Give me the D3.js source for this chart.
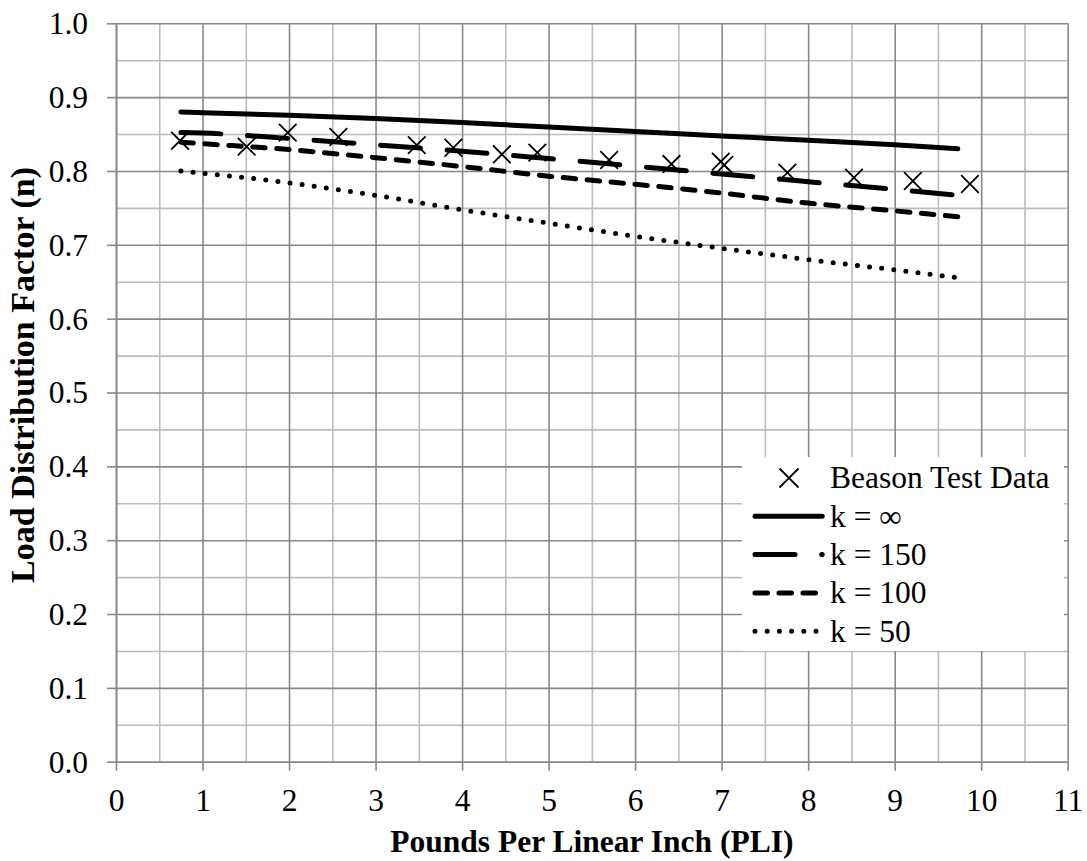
<!DOCTYPE html>
<html>
<head>
<meta charset="utf-8">
<script src="https://cdn.jsdelivr.net/npm/d3@7"></script>
<style>
  html, body { margin: 0; padding: 0; background: #fff; }
  svg { display: block; }
  text { font-family: "Liberation Serif", "Times New Roman", serif; fill: #000; }
</style>
</head>
<body>
<svg id="chart" width="1087" height="861"></svg>
<script>
// Beason test data: load (PLI) vs. measured load distribution factor
const testPLI   = [0.74, 1.51, 1.985, 2.57, 3.476, 3.90, 4.46, 4.87, 5.70, 6.42, 6.99, 7.03, 7.76, 8.53, 9.21, 9.87];
const testN     = [0.841, 0.833, 0.852, 0.846, 0.835, 0.8315, 0.8226, 0.8248, 0.8149, 0.8094, 0.8126, 0.8081, 0.7977, 0.791, 0.7864, 0.7824];

// Predicted curves for various k
const curvePLI  = [0.75, 1, 2, 3, 4, 5, 6, 7, 8, 9, 9.73];
const kInf      = [0.880, 0.879, 0.8755, 0.871, 0.8655, 0.8595, 0.8535, 0.8475, 0.8415, 0.8355, 0.830];
const k150      = [0.852, 0.8513, 0.844, 0.8355, 0.8268, 0.8168, 0.8065, 0.796, 0.7855, 0.775, 0.767];
const k100      = [0.839, 0.837, 0.829, 0.818, 0.806, 0.793, 0.782, 0.770, 0.7565, 0.746, 0.738];
const k50       = [0.800, 0.797, 0.784, 0.767, 0.7475, 0.7293, 0.7115, 0.6953, 0.680, 0.666, 0.6555];

const xTicks = [0, 1, 2, 3, 4, 5, 6, 7, 8, 9, 10, 11];
const yTicks = [0.0, 0.1, 0.2, 0.3, 0.4, 0.5, 0.6, 0.7, 0.8, 0.9, 1.0];

const seriesNames = ["k = \u221E", "k = 150", "k = 100", "k = 50"];
const seriesVals  = [kInf, k150, k100, k50];
const seriesDash  = [null, "40,26.7", "12.5,11.5", "0,12.2"];

const svg = d3.select("#chart");
const L = 116, R = 1067.7, T = 23.3, B = 761.7;
const FS = 31.5;

const x = d3.scaleLinear().domain([0, 11]).range([L, R]);
const y = d3.scaleLinear().domain([0, 1]).range([B, T]);

const majorCol = "#888888", minorCol = "#bcbcbc";

// minor grid
const gMinorX = svg.append("g").attr("transform", `translate(0,${B})`)
  .call(d3.axisBottom(x).tickValues(d3.range(0.5, 11, 1)).tickSize(-(B - T)).tickFormat(""));
const gMinorY = svg.append("g").attr("transform", `translate(${L},0)`)
  .call(d3.axisLeft(y).tickValues(d3.range(0.05, 1, 0.1)).tickSize(-(R - L)).tickFormat(""));
[gMinorX, gMinorY].forEach(g => {
  g.select(".domain").remove();
  g.selectAll("line").attr("stroke", minorCol).attr("stroke-width", 1.6);
});

// major grid
const gMajX = svg.append("g").attr("transform", `translate(0,${B})`)
  .call(d3.axisBottom(x).tickValues(xTicks).tickSize(-(B - T)).tickFormat(""));
const gMajY = svg.append("g").attr("transform", `translate(${L},0)`)
  .call(d3.axisLeft(y).tickValues(yTicks).tickSize(-(R - L)).tickFormat(""));
[gMajX, gMajY].forEach(g => {
  g.select(".domain").remove();
  g.selectAll("line").attr("stroke", majorCol).attr("stroke-width", 1.6);
});

// axes with outside ticks and labels
const xAxis = svg.append("g").attr("transform", `translate(0,${B})`)
  .call(d3.axisBottom(x).tickValues(xTicks).tickSize(9).tickSizeOuter(0).tickPadding(18).tickFormat(d3.format("d")));
const yAxis = svg.append("g").attr("transform", `translate(${L},0)`)
  .call(d3.axisLeft(y).tickValues(yTicks).tickSize(9).tickSizeOuter(0).tickPadding(19).tickFormat(d3.format(".1f")));
[xAxis, yAxis].forEach(g => {
  g.attr("font-family", null).attr("font-size", null);
  g.select(".domain").attr("stroke", majorCol).attr("stroke-width", 1.6);
  g.selectAll(".tick line").attr("stroke", majorCol).attr("stroke-width", 1.6);
  g.selectAll("text").attr("font-family", "Liberation Serif").attr("font-size", FS).attr("fill", "#000");
});
yAxis.selectAll("text").attr("dy", "0.33em");

// axis titles
svg.append("text")
  .attr("x", (L + R) / 2).attr("y", 852)
  .attr("text-anchor", "middle")
  .attr("font-size", FS).attr("font-weight", "bold")
  .text("Pounds Per Linear Inch (PLI)");
svg.append("text")
  .attr("transform", `translate(34,375) rotate(-90)`)
  .attr("text-anchor", "middle")
  .attr("font-size", 34).attr("font-weight", "bold")
  .text("Load Distribution Factor (n)");

// curves
const line = d3.line().x(d => x(d[0])).y(d => y(d[1])).curve(d3.curveMonotoneX);
seriesVals.forEach((vals, i) => {
  const pts = curvePLI.map((p, j) => [p, vals[j]]);
  svg.append("path")
    .datum(pts)
    .attr("d", line)
    .attr("fill", "none")
    .attr("stroke", "#000")
    .attr("stroke-width", 5)
    .attr("stroke-linecap", "round")
    .attr("stroke-linejoin", "round")
    .attr("stroke-dasharray", seriesDash[i]);
});

// test data markers
const xMark = (cx, cy, h) => `M${cx - h},${cy - h}L${cx + h},${cy + h}M${cx - h},${cy + h}L${cx + h},${cy - h}`;
svg.append("g").selectAll("path")
  .data(testPLI.map((p, i) => [p, testN[i]]))
  .join("path")
  .attr("d", d => xMark(x(d[0]), y(d[1]), 8.8))
  .attr("fill", "none")
  .attr("stroke", "#000")
  .attr("stroke-width", 1.8);

// legend
const lg = svg.append("g");
lg.append("rect").attr("x", 742).attr("y", 457).attr("width", 322).attr("height", 194).attr("fill", "#fff");
const rowY = i => 478 + i * 38.3;
lg.append("path").attr("d", xMark(789, rowY(0), 9.5)).attr("fill", "none").attr("stroke", "#000").attr("stroke-width", 1.8);
lg.append("text").attr("x", 830).attr("y", rowY(0)).attr("dy", "0.33em").attr("font-size", FS).text("Beason Test Data");
seriesNames.forEach((name, i) => {
  const yy = rowY(i + 1);
  lg.append("line")
    .attr("x1", 755).attr("x2", 822.2).attr("y1", yy).attr("y2", yy)
    .attr("stroke", "#000").attr("stroke-width", 5)
    .attr("stroke-linecap", "round")
    .attr("stroke-dasharray", seriesDash[i]);
  lg.append("text").attr("x", 830).attr("y", yy).attr("dy", "0.33em").attr("font-size", FS).text(name);
});
</script>
</body>
</html>
